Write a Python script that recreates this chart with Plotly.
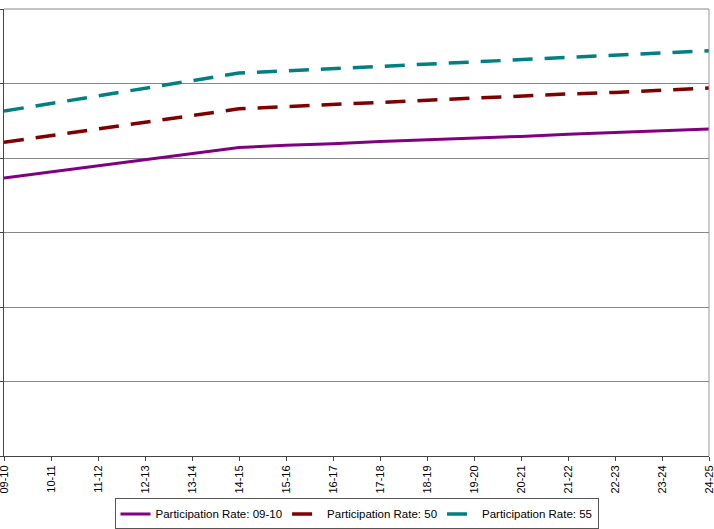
import plotly.graph_objects as go

years = ["09-10", "10-11", "11-12", "12-13", "13-14", "14-15", "15-16", "16-17",
         "17-18", "18-19", "19-20", "20-21", "21-22", "22-23", "23-24", "24-25"]
rate_0910 = [37.3, 38.1, 38.9, 39.8, 40.6, 41.4, 41.7, 41.9, 42.2, 42.4, 42.7, 42.9, 43.2, 43.4, 43.7, 43.9]
rate_50 = [42.1, 43.0, 43.9, 44.8, 45.7, 46.6, 46.9, 47.2, 47.4, 47.7, 48.0, 48.3, 48.6, 48.8, 49.1, 49.4]
rate_55 = [46.3, 47.3, 48.3, 49.4, 50.4, 51.4, 51.7, 52.0, 52.3, 52.6, 52.9, 53.2, 53.5, 53.8, 54.1, 54.4]

fig = go.Figure()
fig.add_trace(go.Scatter(x=years, y=rate_0910, mode="lines", name="Participation Rate: 09-10",
                         line=dict(color="#800080", width=3)))
fig.add_trace(go.Scatter(x=years, y=rate_50, mode="lines", name="Participation Rate: 50",
                         line=dict(color="#800000", width=3.5, dash="20px,12px")))
fig.add_trace(go.Scatter(x=years, y=rate_55, mode="lines", name="Participation Rate: 55",
                         line=dict(color="#008080", width=3.5, dash="20px,12px")))

fig.update_layout(
    width=714, height=529,
    margin=dict(l=4, r=5, t=9, b=73, autoexpand=False),
    paper_bgcolor="white", plot_bgcolor="white",
    font=dict(family="Liberation Sans, Arial, sans-serif", size=11, color="black"),
    showlegend=True,
    legend=dict(orientation="h", x=0.5, xanchor="center", y=-0.095, yanchor="top",
                bordercolor="#555555", borderwidth=1, font=dict(size=11.5),
                itemwidth=30, tracegroupgap=0),
)
fig.update_xaxes(type="category", range=[0, 15], showgrid=False, automargin=False,
                 showline=True, linecolor="#444444", linewidth=1,
                 ticks="outside", ticklen=4, tickcolor="#444444",
                 tickangle=-90, tickfont=dict(size=11))
fig.update_yaxes(range=[0, 60], dtick=10, showgrid=True, gridcolor="#888888", gridwidth=1,
                 automargin=False,
                 showline=True, linecolor="#444444", linewidth=1,
                 ticks="outside", ticklen=3, tickcolor="#444444",
                 showticklabels=False, zeroline=False)
fig.add_shape(type="line", xref="paper", yref="paper", x0=1, x1=1, y0=0, y1=1,
              line=dict(color="#999999", width=1))
fig.add_shape(type="line", xref="paper", yref="paper", x0=0, x1=1, y0=1, y1=1,
              line=dict(color="#888888", width=1))

fig.write_html("out.html")
